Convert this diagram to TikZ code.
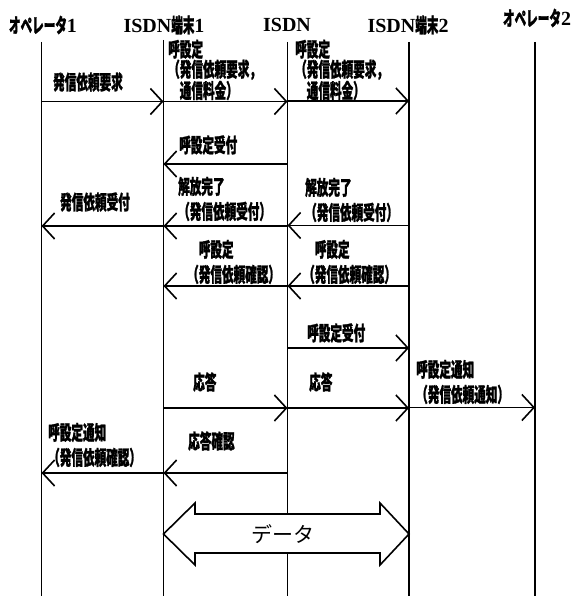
\documentclass[tikz,border=0pt]{standalone}
\usepackage{fontspec}
\newfontfamily\jpfont{Noto Sans CJK JP}[FakeStretch=0.58, BoldFeatures={FakeBold=1.2}]
\newfontfamily\datafont{Noto Sans CJK JP}
\newfontfamily\seriffont{Liberation Serif}
\usetikzlibrary{arrows.meta}
\tikzset{
  lifeline/.style={line width=1.6pt},
  msg/.style={
    line width=1.6pt,
    -{Straight Barb[length=12pt,width=26pt]},
  },
  msg label/.style={
    anchor=west,
    inner sep=0pt,
    align=left,
    font=\jpfont\bfseries\fontsize{20}{25}\selectfont,
  },
  msg label3/.style={
    msg label,
    font=\jpfont\bfseries\fontsize{20}{20}\selectfont,
  },
  head label/.style={inner sep=0pt, font=\bfseries\fontsize{20}{22}\selectfont},
  data arrow/.style={line width=1.6pt, fill=white, line join=miter},
}

\begin{document}
\begin{tikzpicture}[x=1pt,y=-1pt]
  \useasboundingbox (0,0) rectangle (582,596);

  % lifelines
  \coordinate (op1) at (41.5,42);
  \coordinate (t1) at (163.5,40);
  \coordinate (isdn) at (287.5,42);
  \coordinate (t2) at (409,42);
  \coordinate (op2) at (535,42);

  \node[head label] (op1 head) at (43,25) {{\jpfont オペレータ}{\seriffont 1}};
  \node[head label] (t1 head) at (164,25) {{\seriffont ISDN}{\jpfont 端末}{\seriffont 1}};
  \node[head label] (isdn head) at (287,25) {\seriffont ISDN};
  \node[head label] (t2 head) at (408,25) {{\seriffont ISDN}{\jpfont 端末}{\seriffont 2}};
  \node[head label] (op2 head) at (537,18) {{\jpfont オペレータ}{\seriffont 2}};

  \foreach \l in {op1,t1,isdn,t2,op2}
    \draw[lifeline] (\l) -- (\l |- 0,596);

  % messages
  \foreach \a/\b/\y in {op1/t1/101.5, t1/isdn/101.5, isdn/t2/101,
      isdn/t1/164, t2/isdn/225.5, isdn/t1/226, t1/op1/226,
      t2/isdn/286, isdn/t1/286, isdn/t2/348,
      t1/isdn/408, isdn/t2/408, t2/op2/407.5,
      t1/op1/473, isdn/t1/473}
    \draw[msg] (\a |- 0,\y) -- (\b |- 0,\y);

  \node[msg label] (req) at (53,82) {発信依頼要求};
  \node[msg label3] (setup1) at (168,70) {呼設定\\（発信依頼要求，\\　通信料金）};
  \node[msg label3] (setup2) at (295,70) {呼設定\\（発信依頼要求，\\　通信料金）};
  \node[msg label] (setupack1) at (179,145) {呼設定受付};
  \node[msg label] (rel1) at (178,199) {解放完了\\（発信依頼受付）};
  \node[msg label] (rel2) at (305,200) {解放完了\\（発信依頼受付）};
  \node[msg label] (reqack) at (60,202) {発信依頼受付};
  \node[msg label] (conf1) at (187,262) {　呼設定\\（発信依頼確認）};
  \node[msg label] (conf2) at (303,262) {　呼設定\\（発信依頼確認）};
  \node[msg label] (setupack2) at (307,333) {呼設定受付};
  \node[msg label] (ans1) at (193,382) {応答};
  \node[msg label] (ans2) at (309,382) {応答};
  \node[msg label] (notify2) at (416,382) {呼設定通知\\（発信依頼通知）};
  \node[msg label] (notify1) at (48,445) {呼設定通知\\（発信依頼確認）};
  \node[msg label] (ansack) at (188,441) {応答確認};

  % data
  \draw[data arrow] (t1 |- 0,534) -- (195,503) -- (195,514) -- (380,514)
    -- (380,503) -- (t2 |- 0,534) -- (380,565) -- (380,553) -- (195,553)
    -- (195,565) -- cycle;
  \node[font=\datafont\fontsize{21}{24}\selectfont] (data) at (283,534) {データ};
\end{tikzpicture}
\end{document}
